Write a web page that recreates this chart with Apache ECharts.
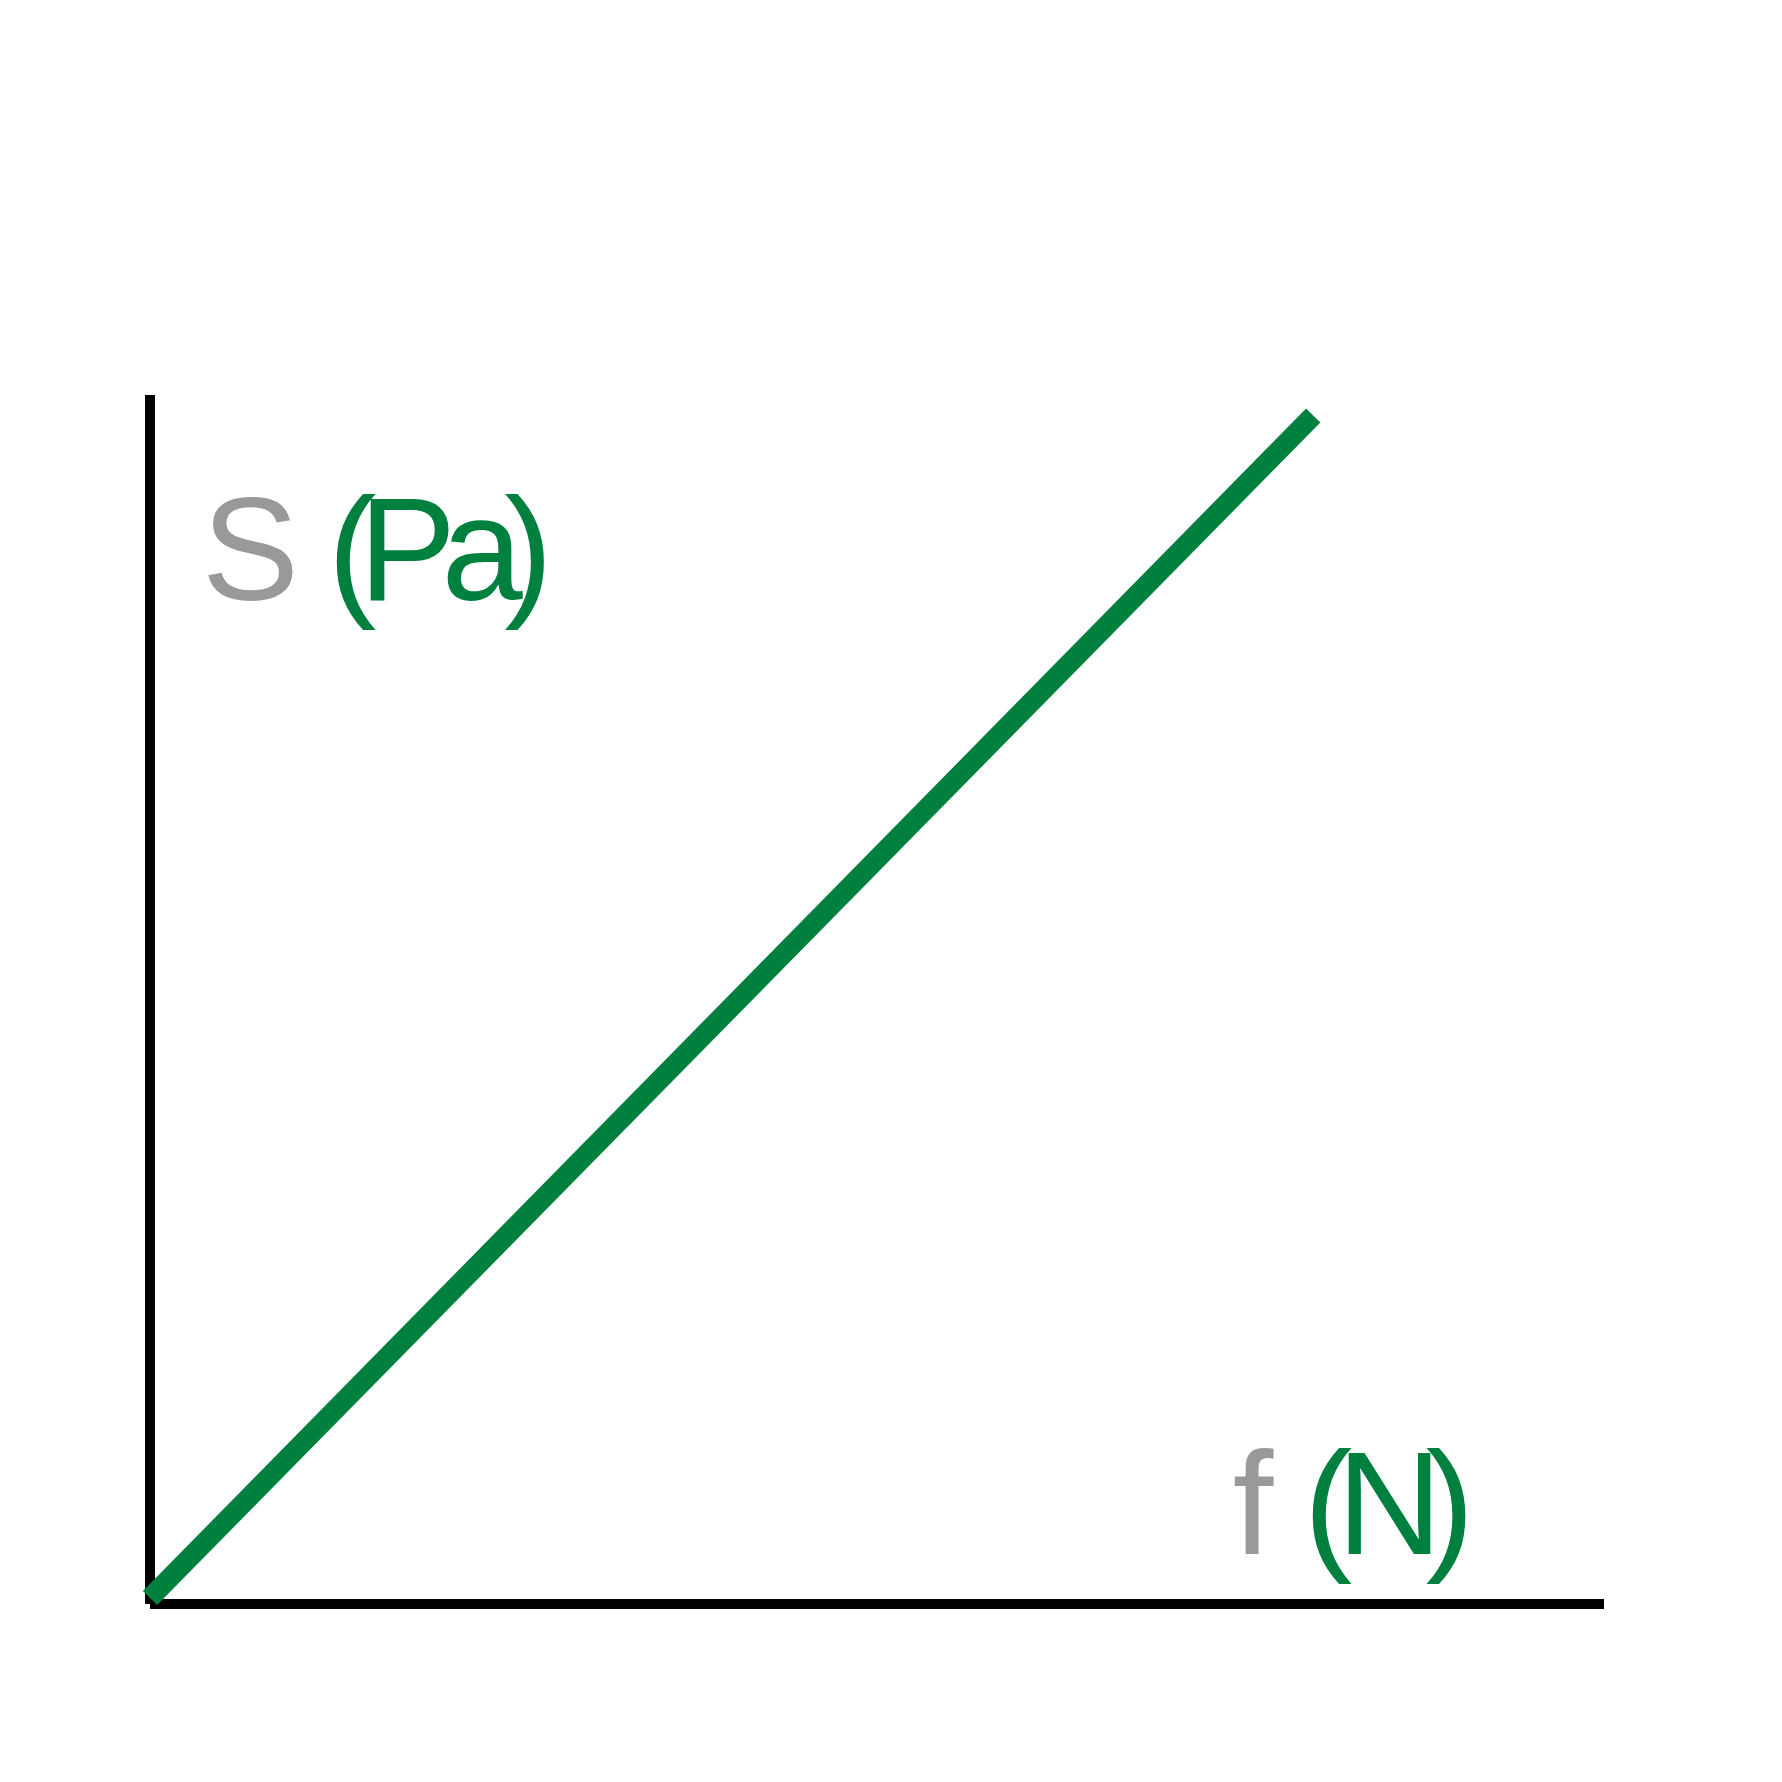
<!DOCTYPE html>
<html>
<head>
<meta charset="utf-8">
<script src="https://cdn.jsdelivr.net/npm/echarts@6/dist/echarts.min.js"></script>
<style>html,body{margin:0;padding:0;background:#fff}#c{width:1782px;height:1782px}</style>
</head>
<body>
<div id="c"></div>
<script>
// Data
const fValues = [0, 80];        // force f (N), x values
const sValues = [0.5, 98.3];    // stress S (Pa), y values
const xLabel = ['f', ' ', '(', 'N', ')'];
const yLabel = ['S', ' ', '(', 'P', 'a', ')'];

const GREEN = '#00803f';
const GRAY = '#999999';
const FONT = 'Liberation Sans, Arial, sans-serif';
const FS = 146;

function tok(w, color) {
  return { width: w, align: 'center', fill: color, color: color, fontSize: FS, fontFamily: FONT, lineHeight: FS };
}

const chart = echarts.init(document.getElementById('c'), null, { renderer: 'canvas' });
chart.setOption({
  animation: false,
  backgroundColor: '#ffffff',
  grid: { left: 150, right: 178, top: 395, bottom: 178, containLabel: false },
  xAxis: {
    type: 'value', min: 0, max: 100,
    axisLine: { show: true, lineStyle: { color: '#000', width: 10, cap: 'butt' } },
    axisTick: { show: false }, axisLabel: { show: false }, splitLine: { show: false }
  },
  yAxis: {
    type: 'value', min: 0, max: 100,
    axisLine: { show: true, lineStyle: { color: '#000', width: 10, cap: 'butt' } },
    axisTick: { show: false }, axisLabel: { show: false }, splitLine: { show: false }
  },
  series: [{
    type: 'line',
    data: fValues.map((f, i) => [f, sValues[i]]),
    symbol: 'none',
    clip: false,
    lineStyle: { color: GREEN, width: 20, cap: 'butt' }
  }],
  graphic: [
    {
      type: 'text', x: 210, y: 560,
      style: {
        text: '{g|' + yLabel[0] + '}{sp|' + yLabel[1] + '}{a|' + yLabel[2] + '}{b|' + yLabel[3] + '}{c|' + yLabel[4] + '}{d|' + yLabel[5] + '}',
        align: 'left', verticalAlign: 'middle',
        font: FS + 'px ' + FONT,
        fill: GREEN,
        rich: {
          g: tok(81, GRAY), sp: tok(50, GRAY), a: tok(22, GREEN),
          b: tok(89, GREEN), c: tok(60, GREEN), d: tok(33, GREEN)
        }
      }
    },
    {
      type: 'text', x: 1233, y: 1514,
      style: {
        text: '{g|' + xLabel[0] + '}{sp|' + xLabel[1] + '}{a|' + xLabel[2] + '}{b|' + xLabel[3] + '}{d|' + xLabel[4] + '}',
        align: 'left', verticalAlign: 'middle',
        font: FS + 'px ' + FONT,
        fill: GREEN,
        rich: {
          g: tok(40, GRAY), sp: tok(37.5, GRAY), a: tok(35, GREEN),
          b: tok(88, GREEN), d: tok(33, GREEN)
        }
      }
    }
  ]
});
</script>
</body>
</html>
